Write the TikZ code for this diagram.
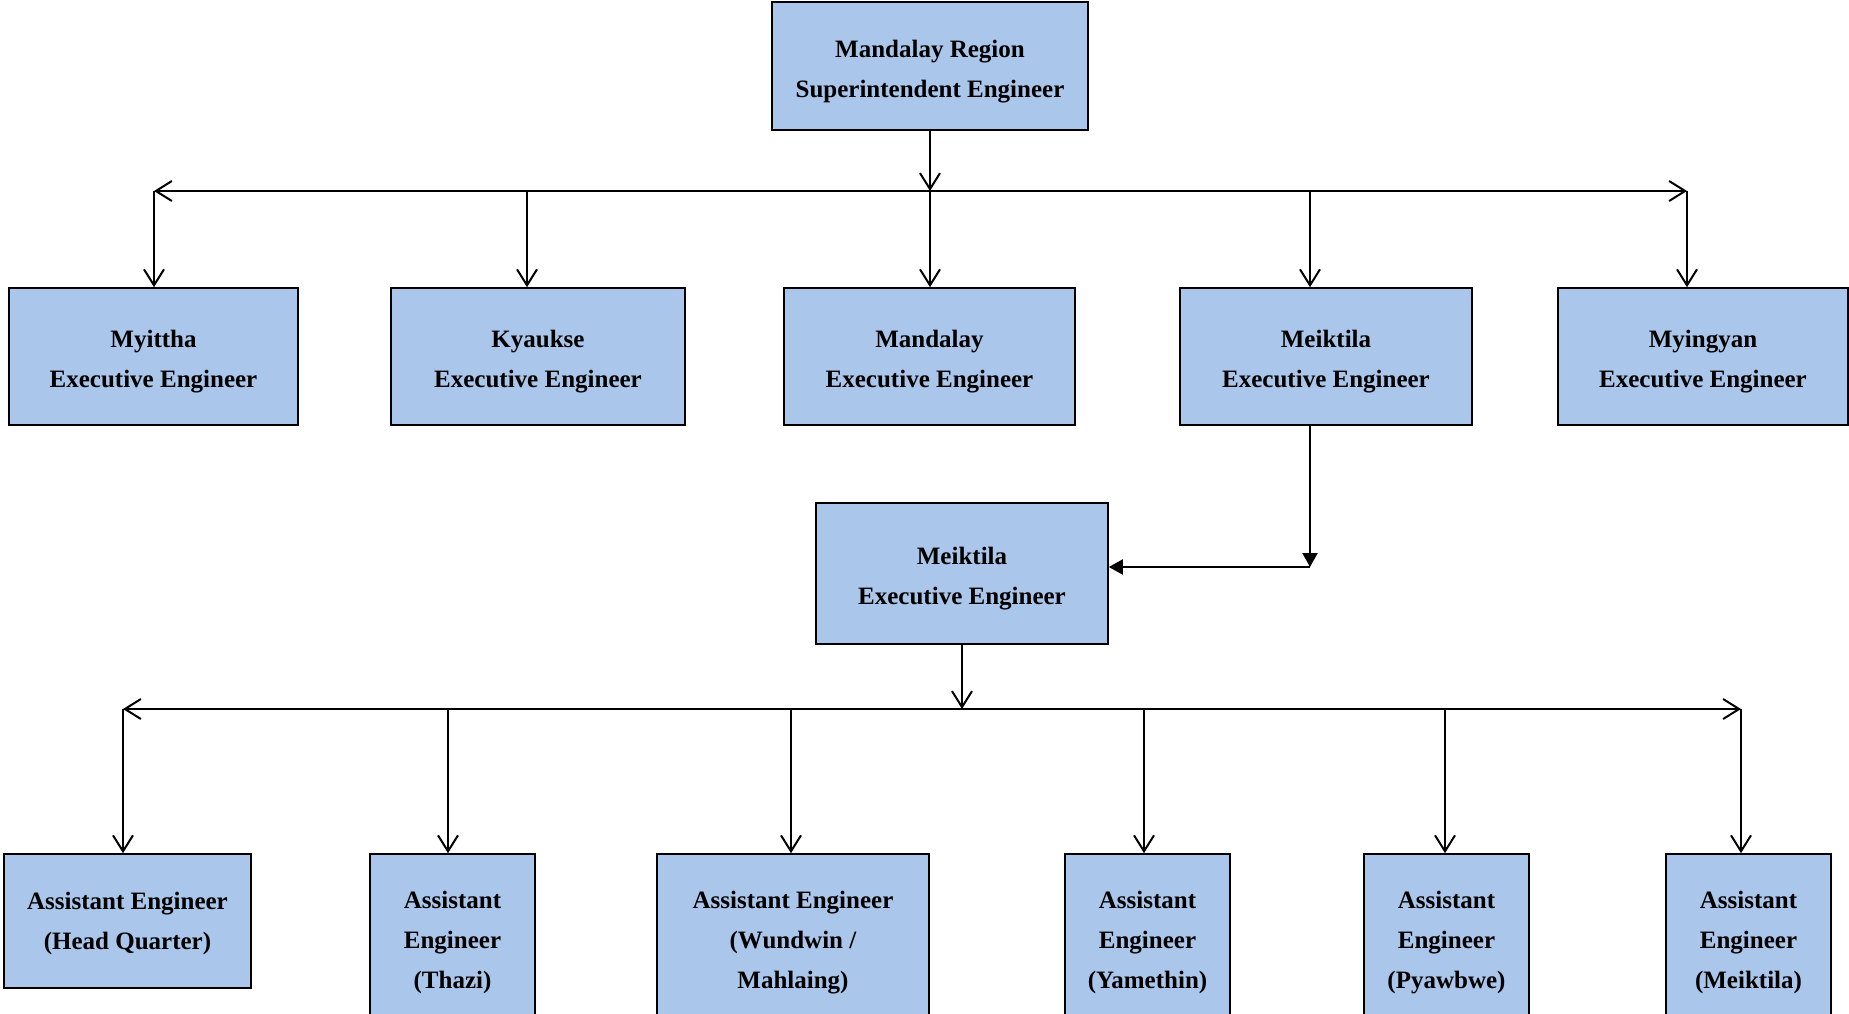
\documentclass[tikz,border=0pt]{standalone}
\usepackage{fontspec}
\setmainfont{Liberation Serif}
\usetikzlibrary{arrows.meta}
\definecolor{boxblue}{RGB}{170,198,234}
\newcommand{\upstrut}{\rule{0pt}{14.2pt}}
\newcommand{\lowstrut}{\rule{0pt}{11.6pt}}

\begin{document}
\begin{tikzpicture}[
    x=0.5pt, y=-0.5pt,
    box/.style={rectangle, draw, line width=0.8pt, fill=boxblue, align=center, inner sep=2pt,
        font=\bfseries\fontsize{12.5}{20}\selectfont},
    wide/.style={box, minimum width=146pt, minimum height=68.5pt},
    narrow/.style={box, minimum width=82.5pt, minimum height=86pt},
    link/.style={line width=1pt, -{Straight Barb[length=8pt, width=10pt]}},
    bus/.style={line width=1pt, {Straight Barb[length=8pt, width=10pt]}-{Straight Barb[length=8pt, width=10pt]}},
    feed/.style={line width=1pt, -{Triangle[length=7pt, width=7.5pt]}}
]
\useasboundingbox (0,0) rectangle (1849,1013);
\clip (0,0) rectangle (1849,1013);

% superintendent
\node[box, minimum width=158pt, minimum height=64pt] (super) at (930,66) {\upstrut Mandalay Region\\Superintendent Engineer};

% executive engineers
\node[wide, minimum width=144.5pt] (myittha) at (153.5,356.5) {\upstrut Myittha\\Executive Engineer};
\node[wide, minimum width=147pt] (kyaukse) at (538,356.5) {\upstrut Kyaukse\\Executive Engineer};
\node[wide, minimum width=145.5pt] (mandalay) at (929.5,356.5) {\upstrut Mandalay\\Executive Engineer};
\node[wide] (meiktila) at (1326,356.5) {\upstrut Meiktila\\Executive Engineer};
\node[wide, minimum width=145pt] (myingyan) at (1703,356.5) {\upstrut Myingyan\\Executive Engineer};

\node[wide, minimum height=70.5pt] (meiktila2) at (962,573.5) {\upstrut Meiktila\\Executive Engineer};

% assistant engineers
\node[box, minimum width=123.5pt, minimum height=67pt] (hq) at (127.5,921) {\lowstrut Assistant Engineer\\(Head Quarter)};
\node[narrow] (thazi) at (452.5,940) {\lowstrut Assistant\\Engineer\\(Thazi)};
\node[narrow, minimum width=136pt] (wundwin) at (793,940) {\lowstrut Assistant Engineer\\(Wundwin /\\Mahlaing)};
\node[narrow] (yamethin) at (1147.5,940) {\lowstrut Assistant\\Engineer\\(Yamethin)};
\node[narrow] (pyawbwe) at (1446.5,940) {\lowstrut Assistant\\Engineer\\(Pyawbwe)};
\node[narrow] (meikae) at (1748.5,940) {\lowstrut Assistant\\Engineer\\(Meiktila)};

% upper bus
\coordinate (t1) at (154,191);
\coordinate (t2) at (527,191);
\coordinate (t3) at (930,191);
\coordinate (t4) at (1310,191);
\coordinate (t5) at (1687,191);
\draw[link] (super.south) -- (super.south |- t1);
\draw[bus] (t1) -- (t5);
\foreach \n/\c in {t1/myittha, t2/kyaukse, t3/mandalay, t4/meiktila, t5/myingyan}
    \draw[link] (\n) -- (\n |- \c.north);

% Meiktila detail
\coordinate (turn) at (1310,567);
\draw[feed] (turn |- meiktila.south) -- (turn);
\draw[feed] (turn) -- (meiktila2.east |- turn);

% lower bus
\coordinate (b1) at (123,709);
\coordinate (b2) at (448,709);
\coordinate (b3) at (791,709);
\coordinate (b4) at (1144,709);
\coordinate (b5) at (1445,709);
\coordinate (b6) at (1741,709);
\draw[link] (meiktila2.south) -- (meiktila2.south |- b1);
\draw[bus] (b1) -- (b6);
\foreach \n/\c in {b1/hq, b2/thazi, b3/wundwin, b4/yamethin, b5/pyawbwe, b6/meikae}
    \draw[link] (\n) -- (\n |- \c.north);
\end{tikzpicture}
\end{document}
